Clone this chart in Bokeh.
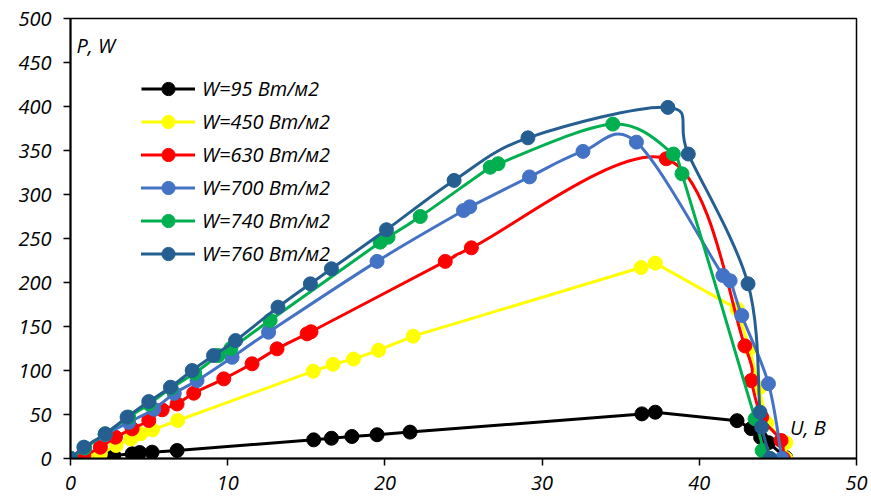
from bokeh.plotting import figure
from bokeh.models import Legend, LegendItem, Label, ColumnDataSource, FixedTicker, Range1d
from bokeh.embed import file_html
from bokeh.resources import INLINE

# ---- data (U in V, P in W) ----
labels = ["W=95 Вт/м2", "W=450 Вт/м2", "W=630 Вт/м2", "W=700 Вт/м2", "W=740 Вт/м2", "W=760 Вт/м2"]
colors = ["#000000", "#FFFF00", "#FF0000", "#4472C4", "#00B050", "#255E91"]
smoothed = [False, False, True, True, True, True]

u95 = [0, 1.16, 1.8, 2.75, 3.92, 4.4, 5.19, 6.78, 15.47, 16.6, 17.9, 19.5, 21.6, 36.35, 37.2, 42.4, 43.3, 43.9, 44.4, 45.5]
p95 = [0, 0, 0.5, 3.4, 5.3, 6.8, 7.2, 9.1, 21.2, 23, 25, 27, 30, 50.7, 52.6, 43, 34, 24, 18, 1]

u450 = [0, 1.0, 1.9, 2.9, 3.83, 4.47, 5.22, 6.82, 15.44, 16.7, 18.0, 19.6, 21.8, 36.3, 37.2, 42.4, 43.2, 43.8, 44.3, 45.5, 45.5]
p450 = [0, 2, 5, 14.8, 22.3, 28, 32.6, 43.2, 99.2, 107, 113, 123, 139, 217, 222, 170, 125, 80, 40, 18, 0]

u630 = [0, 0.85, 1.9, 2.86, 3.92, 4.98, 5.83, 6.78, 7.84, 9.75, 11.55, 13.14, 15.05, 15.3, 23.84, 25.5, 37.9, 42.9, 43.3, 43.97, 45.2, 45.35]
p630 = [0, 3.4, 12.8, 24.2, 33.7, 43.2, 55.3, 62, 74.2, 90.5, 107.6, 124.6, 141.7, 144, 224, 239.4, 340.6, 128, 88.6, 47, 20.5, 0]

u700 = [0, 0.9, 2.2, 3.7, 5.3, 6.6, 8.05, 10.28, 12.6, 19.5, 25.0, 25.4, 29.2, 32.6, 36.0, 41.5, 41.96, 42.7, 44.4, 45.25]
p700 = [0, 12, 27, 41, 56, 74, 88.6, 115, 143.5, 224, 281.8, 286, 320, 349, 359.5, 208, 202, 162.5, 85, 0]

u740 = [0, 0.9, 2.2, 3.7, 5.0, 6.4, 7.9, 9.4, 10.2, 12.7, 19.7, 20.2, 22.25, 26.7, 27.2, 34.5, 38.35, 38.9, 43.55, 44.0, 44.5]
p740 = [0, 12, 28, 47, 62, 80, 97, 117, 125, 157, 245.8, 251.5, 275, 331, 335, 380, 346, 323.5, 45, 9, 0]

u760 = [0, 0.85, 2.22, 3.6, 4.98, 6.36, 7.74, 9.1, 10.5, 13.2, 15.26, 16.6, 20.1, 24.4, 29.1, 38.0, 39.3, 43.1, 43.86, 43.97, 44.5]
p760 = [0, 12.9, 28, 47, 64.7, 81, 100, 117, 134, 172, 198.5, 215.6, 260, 316, 364.4, 399, 346, 198.5, 52.6, 35.6, 0]

series_u = [u95, u450, u630, u700, u740, u760]
series_p = [p95, p450, p630, p700, p740, p760]

x_ticks = [0, 10, 20, 30, 40, 50]
y_ticks = [0, 50, 100, 150, 200, 250, 300, 350, 400, 450, 500]

FONT = "Open Sans"


def bezier_segments(xs, ys):
    n = len(xs)
    d = dict(x0=[], y0=[], x1=[], y1=[], cx0=[], cy0=[], cx1=[], cy1=[])
    for i in range(n - 1):
        a = i - 1 if i > 0 else i
        b = i + 2 if i + 2 < n else i + 1
        d["x0"].append(xs[i]); d["y0"].append(ys[i])
        d["x1"].append(xs[i + 1]); d["y1"].append(ys[i + 1])
        d["cx0"].append(xs[i] + (xs[i + 1] - xs[a]) / 6.0)
        d["cy0"].append(ys[i] + (ys[i + 1] - ys[a]) / 6.0)
        d["cx1"].append(xs[i + 1] - (xs[b] - xs[i]) / 6.0)
        d["cy1"].append(ys[i + 1] - (ys[b] - ys[i]) / 6.0)
    return d


p = figure(width=871, height=502, output_backend="svg", toolbar_location=None,
           x_range=Range1d(0, 50), y_range=Range1d(0, 500),
           min_border_left=70, min_border_right=15, min_border_top=18, min_border_bottom=44)

p.background_fill_color = "white"
p.border_fill_color = "white"
p.outline_line_color = "black"
p.outline_line_width = 1.5
p.xgrid.visible = False
p.ygrid.visible = False

for ax in (p.xaxis[0], p.yaxis[0]):
    ax.axis_line_color = "black"
    ax.axis_line_width = 2
    ax.major_tick_line_color = "black"
    ax.major_tick_line_width = 1.5
    ax.major_tick_out = 7
    ax.major_tick_in = 0
    ax.minor_tick_line_color = None
    ax.major_label_text_font = FONT
    ax.major_label_text_font_style = "italic"
    ax.major_label_text_font_size = "20px"
    ax.major_label_text_color = "black"

p.xaxis[0].ticker = FixedTicker(ticks=x_ticks)
p.yaxis[0].ticker = FixedTicker(ticks=y_ticks)
p.xaxis[0].major_label_standoff = 10
p.yaxis[0].major_label_standoff = 12

items = []
for lab, col, sm, xs, ys in zip(labels, colors, smoothed, series_u, series_p):
    if sm:
        src = ColumnDataSource(bezier_segments(xs, ys))
        lr = p.bezier(x0="x0", y0="y0", x1="x1", y1="y1", cx0="cx0", cy0="cy0",
                      cx1="cx1", cy1="cy1", source=src, line_color=col, line_width=3,
                      line_cap="round")
    else:
        lr = p.line(xs, ys, line_color=col, line_width=3, line_join="round")
    sr = p.scatter(xs, ys, marker="circle", size=14, fill_color=col, line_color=col)
    items.append(LegendItem(label=lab, renderers=[lr, sr]))

legend = Legend(items=items, location=(71, 188))
legend.glyph_width = 54
legend.glyph_height = 33
legend.label_height = 33
legend.spacing = 0
legend.padding = 0
legend.margin = 0
legend.label_standoff = 7
legend.border_line_color = None
legend.background_fill_alpha = 0
legend.label_text_font = FONT
legend.label_text_font_style = "italic"
legend.label_text_font_size = "20px"
legend.label_text_color = "black"
p.add_layout(legend, "center")

p.add_layout(Label(x=0.38, y=469, text="P, W", text_font=FONT, text_font_style="italic",
                   text_font_size="20px", text_baseline="middle", text_color="black"))
p.add_layout(Label(x=45.77, y=34.7, text="U, В", text_font=FONT, text_font_style="italic",
                   text_font_size="20px", text_baseline="middle", text_color="black"))

open("out.html", "w").write(file_html(p, INLINE))
